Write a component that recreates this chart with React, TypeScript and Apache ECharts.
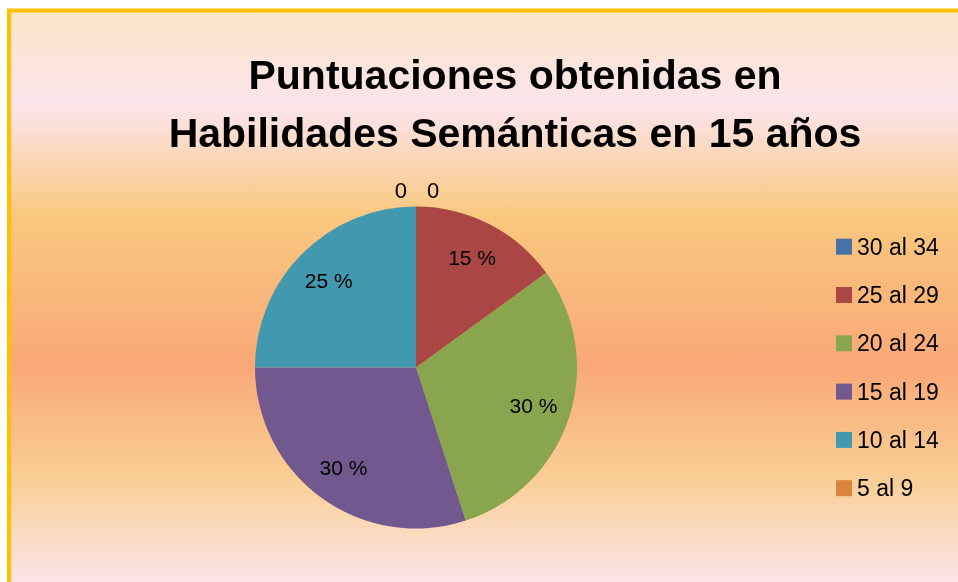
import React, { useEffect, useRef } from 'react';
import * as echarts from 'echarts';

const categories = ['30 al 34', '25 al 29', '20 al 24', '15 al 19', '10 al 14', '5 al 9'];
const percentages = [0, 15, 30, 30, 25, 0];
const colors = ['#4572A7', '#AA4643', '#89A54E', '#71588F', '#4198AF', '#DB843D'];
const titleLines = ['Puntuaciones obtenidas en', 'Habilidades Semánticas en 15 años'];

const FONT = '"Liberation Sans", Arial, sans-serif';

export default function App() {
  const ref = useRef<HTMLDivElement>(null);
  useEffect(() => {
    const chart = echarts.init(ref.current!, null, { renderer: 'svg' });
    const center = [416, 367.5];
    const R = 161;
    const last = categories.length - 1;
    chart.setOption({
      animation: false,
      title: {
        text: titleLines.join('\n'),
        left: 515,
        top: 46,
        textAlign: 'center',
        padding: 0,
        textStyle: {
          fontFamily: FONT,
          fontSize: 41,
          fontWeight: 'bold',
          lineHeight: 58,
          color: '#000',
        },
      },
      legend: {
        orient: 'vertical',
        left: 836,
        top: 235.2,
        padding: 0,
        itemWidth: 16,
        itemHeight: 16,
        itemGap: 25.3,
        icon: 'rect',
        data: categories,
        selectedMode: false,
        textStyle: { fontFamily: FONT, fontSize: 23, color: '#000', lineHeight: 23 },
      },
      graphic: [
        {
          type: 'rect',
          z: -10,
          silent: true,
          shape: { x: 9, y: 10.5, width: 1000, height: 574 },
          style: {
            fill: new echarts.graphic.LinearGradient(0, 0, 0, 1, [
              { offset: 0, color: '#FAE6C8' },
              { offset: 0.165, color: '#FCE4EC' },
              { offset: 0.357, color: '#F9C87F' },
              { offset: 0.618, color: '#F9A877' },
              { offset: 0.818, color: '#F9CF96' },
              { offset: 1, color: '#FCE4E8' },
            ]),
            stroke: '#FFC000',
            lineWidth: 4,
          },
        },
      ],
      series: [
        {
          type: 'pie',
          center,
          radius: [0, R],
          startAngle: 90,
          clockwise: true,
          avoidLabelOverlap: false,
          emphasis: { disabled: true },
          label: {
            position: 'outside',
            formatter: '{c}',
            fontFamily: FONT,
            fontSize: 22,
            color: '#000',
            distanceToLabelLine: 5,
          },
          labelLine: { show: false, length: 16, length2: 6 },
          labelLayout: (p: any) => {
            if (p.dataIndex === 0) return { x: center[0] + 11, align: 'left' };
            if (p.dataIndex === last) return { x: center[0] - 9, align: 'right' };
            return {};
          },
          data: categories.map((name, i) => ({
            name,
            value: percentages[i],
            itemStyle: { color: colors[i] },
            label: { show: percentages[i] === 0 },
          })),
        },
        {
          type: 'pie',
          silent: true,
          center,
          radius: [80, R],
          startAngle: 90,
          clockwise: true,
          avoidLabelOverlap: false,
          emphasis: { disabled: true },
          itemStyle: { color: 'rgba(0,0,0,0)' },
          label: {
            position: 'inside',
            formatter: '{c} %',
            fontFamily: FONT,
            fontSize: 21,
            color: '#000',
          },
          labelLine: { show: false },
          data: categories.map((name, i) => ({
            name,
            value: percentages[i],
            itemStyle: { color: 'rgba(0,0,0,0)' },
            label: { show: percentages[i] !== 0 },
          })),
        },
      ],
    });
    return () => chart.dispose();
  }, []);
  return (
    <div
      ref={ref}
      style={{ position: 'fixed', left: 0, top: 0, width: 958, height: 582 }}
    />
  );
}
